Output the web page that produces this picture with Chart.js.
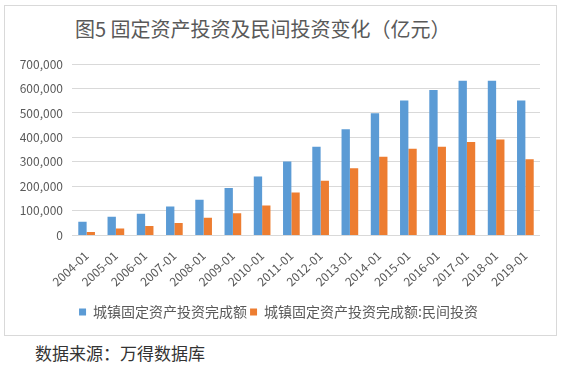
<!DOCTYPE html>
<html>
<head>
<meta charset="utf-8">
<script src="https://cdn.jsdelivr.net/npm/chart.js@4.4.1/dist/chart.umd.min.js"></script>
<style>
  body { margin: 0; background: #fff; width: 562px; height: 373px; position: relative; overflow: hidden; }
  .box { position: absolute; left: 4px; top: 5px; width: 551px; height: 329px; border: 1px solid #d9d9d9; }
  .title { position: absolute; left: 75px; top: 17px; font: 20px "Noto Sans CJK SC"; color: #595959; line-height: 24px; white-space: nowrap; }
  .source { position: absolute; left: 35px; top: 343px; font: 17px "Noto Sans CJK SC"; color: #333; line-height: 20px; white-space: nowrap; }
  #wrap { position: absolute; left: 5px; top: 6px; width: 551px; height: 329px; }
</style>
</head>
<body>
<div class="box"></div>
<div class="title">图5 固定资产投资及民间投资变化（亿元）</div>
<div id="wrap"><canvas id="c"></canvas></div>
<div class="source">数据来源：万得数据库</div>
<script>
const years = ['2004-01', '2005-01', '2006-01', '2007-01', '2008-01', '2009-01', '2010-01', '2011-01',
    '2012-01', '2013-01', '2014-01', '2015-01', '2016-01', '2017-01', '2018-01', '2019-01'];
const total = [55500, 76000, 88000, 118000, 146000, 194000, 240000, 302000,
    362000, 433000, 499000, 551000, 594000, 632000, 632000, 551000];
const privateInv = [14000, 28000, 38000, 51000, 72000, 90000, 122000, 175000,
    223000, 274000, 321000, 354000, 362000, 381000, 392000, 311000];
const seriesNames = ['城镇固定资产投资完成额', '城镇固定资产投资完成额:民间投资'];

const grey = '#595959';
const font = '"Noto Sans CJK SC", "Noto Sans", sans-serif';

new Chart(document.getElementById('c'), {
    type: 'bar',
    data: {
        labels: years,
        datasets: [{
            label: seriesNames[0],
            data: total,
            backgroundColor: '#5b9bd5'
        }, {
            label: seriesNames[1],
            data: privateInv,
            backgroundColor: '#ed7d31'
        }]
    },
    options: {
        responsive: true,
        maintainAspectRatio: false,
        animation: false,
        categoryPercentage: 0.57,
        barPercentage: 1.0,
        layout: {
            padding: { left: 12, right: 16, top: 58, bottom: 6 }
        },
        scales: {
            y: {
                min: 0,
                max: 700000,
                ticks: {
                    stepSize: 100000,
                    color: grey,
                    padding: 9,
                    font: { family: font, size: 12 },
                    callback: v => v.toLocaleString('en-US')
                },
                grid: { color: '#d9d9d9', drawTicks: false },
                border: { display: false },
                afterFit: scale => { scale.width = 55; }
            },
            x: {
                ticks: {
                    color: grey,
                    minRotation: 43,
                    maxRotation: 43,
                    padding: 5,
                    font: { family: font, size: 12 }
                },
                grid: { display: false },
                border: { display: false },
                afterFit: scale => { scale.height += 8; }
            }
        },
        plugins: {
            legend: {
                position: 'bottom',
                labels: {
                    boxWidth: 7,
                    boxHeight: 7,
                    padding: 3,
                    color: grey,
                    font: { family: font, size: 14 }
                }
            },
            tooltip: { enabled: false }
        }
    }
});
</script>
</body>
</html>
